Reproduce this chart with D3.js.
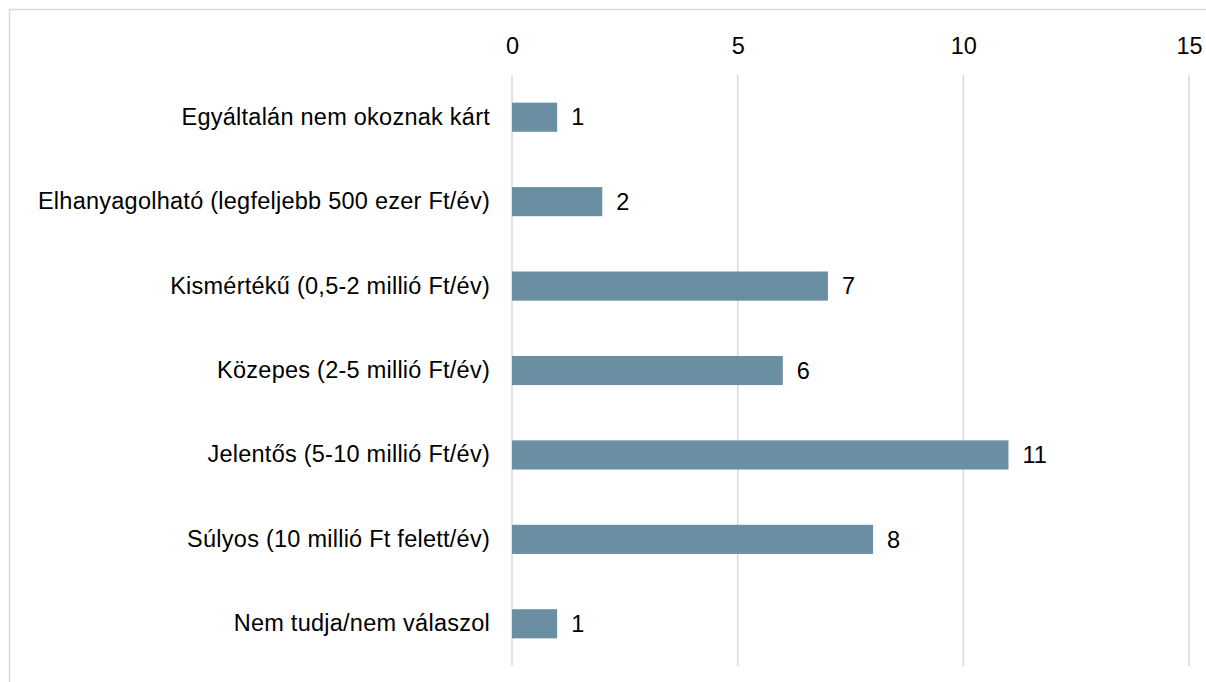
<!DOCTYPE html>
<html>
<head>
<meta charset="utf-8">
<script src="https://cdn.jsdelivr.net/npm/d3@7"></script>
<style>
  body { margin: 0; background: #fff; }
  text { font-family: "Liberation Sans", Arial, sans-serif; fill: #000; }
</style>
</head>
<body>
<script>
const categories = [
  "Egyáltalán nem okoznak kárt",
  "Elhanyagolható (legfeljebb 500 ezer Ft/év)",
  "Kismértékű (0,5-2 millió Ft/év)",
  "Közepes (2-5 millió Ft/év)",
  "Jelentős (5-10 millió Ft/év)",
  "Súlyos (10 millió Ft felett/év)",
  "Nem tudja/nem válaszol"
];
const values = [1, 2, 7, 6, 11, 8, 1];
const xTicks = [0, 5, 10, 15];

const w = 1206;
const h = 682;
const fontSize = 23.5;

const svg = d3.select("body")
              .append("svg")
              .attr("width", w)
              .attr("height", h);

// frame
svg.append("rect")
   .attr("x", 9.5)
   .attr("y", 9.5)
   .attr("width", w + 20)
   .attr("height", h + 20)
   .attr("fill", "none")
   .attr("stroke", "#d9d9d9")
   .attr("stroke-width", 1.5);

const xScale = d3.scaleLinear()
                 .domain([0, 15])
                 .range([512, 1189]);

const yScale = d3.scaleBand()
                 .domain(categories)
                 .range([75, 666])
                 .paddingInner(0.655)
                 .paddingOuter(0.3275);

// gridlines
svg.selectAll("line.grid")
   .data(xTicks)
   .enter()
   .append("line")
   .attr("class", "grid")
   .attr("x1", (d) => xScale(d))
   .attr("x2", (d) => xScale(d))
   .attr("y1", 75)
   .attr("y2", 666)
   .attr("stroke", "#d9d9d9")
   .attr("stroke-width", 1.5);

const xAxis = d3.axisTop(xScale).tickValues(xTicks).tickSize(0).tickPadding(0);
const gx = svg.append("g")
   .attr("transform", "translate(0,53.5)")
   .call(xAxis);
gx.select(".domain").remove();
gx.attr("font-size", fontSize).attr("font-family", null);

svg.selectAll("rect.bar")
   .data(values)
   .enter()
   .append("rect")
   .attr("class", "bar")
   .attr("x", xScale(0))
   .attr("y", (d, i) => yScale(categories[i]))
   .attr("width", (d) => xScale(d) - xScale(0))
   .attr("height", yScale.bandwidth())
   .attr("fill", "#6a8fa3");

svg.selectAll("text.value")
   .data(values)
   .enter()
   .append("text")
   .attr("class", "value")
   .attr("x", (d) => xScale(d) + 14)
   .attr("y", (d, i) => yScale(categories[i]) + yScale.bandwidth() / 2)
   .attr("dy", "0.35em")
   .attr("font-size", fontSize)
   .text((d) => d);

const yAxis = d3.axisLeft(yScale).tickSize(0).tickPadding(0);
const gy = svg.append("g")
   .attr("transform", "translate(490,0)")
   .call(yAxis);
gy.select(".domain").remove();
gy.attr("font-size", fontSize).attr("font-family", null)
  .selectAll("text").attr("letter-spacing", 0.25);
</script>
</body>
</html>
